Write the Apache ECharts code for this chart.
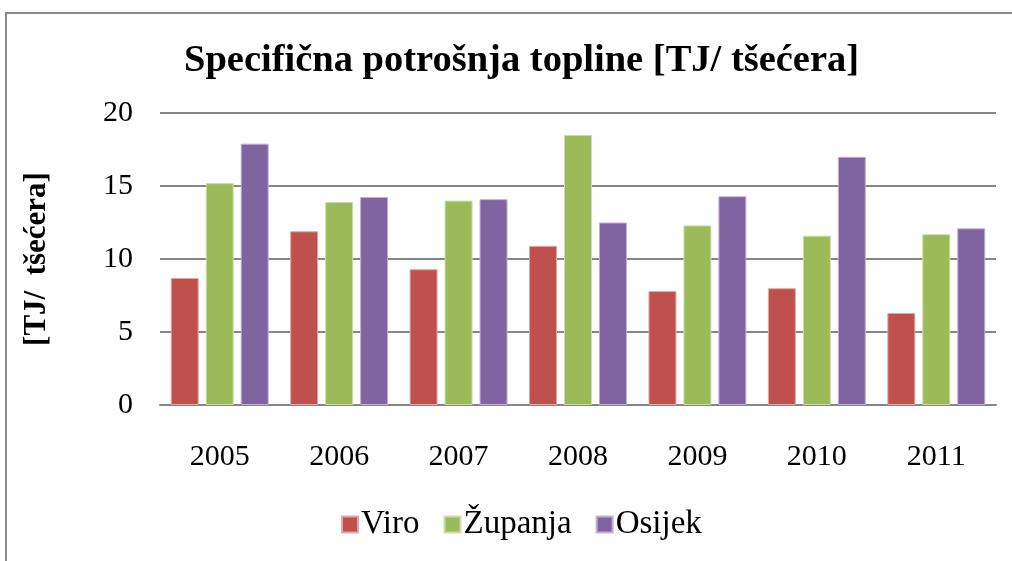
<!DOCTYPE html>
<html>
<head>
<meta charset="utf-8">
<script src="https://cdn.jsdelivr.net/npm/echarts@6/dist/echarts.min.js"></script>
<style>html,body{margin:0;padding:0;background:#fff}#c{width:1012px;height:561px}</style>
</head>
<body>
<div id="c"></div>
<script>
const categories = ['2005','2006','2007','2008','2009','2010','2011'];
const viro    = [8.7, 11.9, 9.3, 10.9, 7.8, 8.0, 6.3];
const zupanja = [15.2, 13.9, 14.0, 18.5, 12.3, 11.6, 11.7];
const osijek  = [17.9, 14.25, 14.1, 12.5, 14.3, 17.0, 12.1];
const seriesNames = ['Viro', 'Županja', 'Osijek'];
const colors = ['#C0504D', '#9BBB59', '#8064A2'];
const borderColors = ['#E2A8A6', '#CCDDAB', '#C0B1D1'];
const yTicks = [0, 5, 10, 15, 20];

const FONT = "'Liberation Serif', 'Times New Roman', serif";
const chart = echarts.init(document.getElementById('c'));
const data = [viro, zupanja, osijek];
chart.setOption({
  animation: false,
  color: colors,
  graphic: [{
    type: 'rect', shape: {x: 6, y: 13, width: 1100, height: 700},
    style: {fill: 'none', stroke: '#8a8a8a', lineWidth: 2}, silent: true
  }],
  title: {
    text: 'Specifična potrošnja topline [TJ/ tšećera]',
    left: 179, top: 37,
    textStyle: {fontFamily: FONT, fontSize: 38.5, fontWeight: 'bold', color: '#000'}
  },
  legend: {
    bottom: 15, left: 336,
    icon: 'rect', itemWidth: 16, itemHeight: 16, itemGap: 24,
    textStyle: {fontFamily: FONT, fontSize: 33, color: '#000', padding: [0,0,0,-2]},
    data: seriesNames
  },
  grid: {left: 160, right: 16, top: 113, bottom: 156},
  xAxis: {
    type: 'category', data: categories,
    axisLine: {lineStyle: {color: '#868686', width: 2}},
    axisTick: {show: false},
    axisLabel: {fontFamily: FONT, fontSize: 30, color: '#000', margin: 37}
  },
  yAxis: {
    type: 'value', min: yTicks[0], max: yTicks[yTicks.length-1], interval: 5,
    name: '[TJ/  tšećera]', nameLocation: 'middle', nameGap: 108, nameRotate: 90,
    nameTextStyle: {fontFamily: FONT, fontSize: 31, fontWeight: 'bold', color: '#000'},
    axisLine: {show: false}, axisTick: {show: false},
    axisLabel: {fontFamily: FONT, fontSize: 30, color: '#000', margin: 27},
    splitLine: {lineStyle: {color: '#868686', width: 2}}
  },
  series: seriesNames.map((n, i) => ({
    name: n, type: 'bar', data: data[i],
    barGap: '25%', barCategoryGap: '18%',
    itemStyle: {color: colors[i], borderColor: borderColors[i], borderWidth: 1}
  }))
});
</script>
</body>
</html>
